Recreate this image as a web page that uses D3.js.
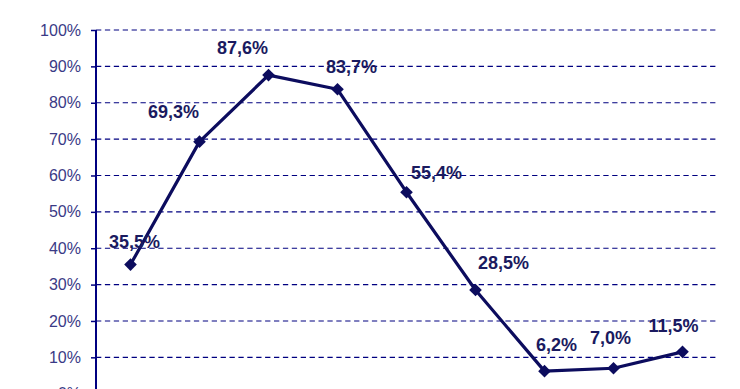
<!DOCTYPE html>
<html>
<head>
<meta charset="utf-8">
<script src="https://cdn.jsdelivr.net/npm/d3@7"></script>
<style>
  html, body { margin: 0; padding: 0; background: #ffffff; overflow: hidden; }
  svg { display: block; }
</style>
</head>
<body>
<svg id="chart" width="740" height="389"></svg>
<script>
// ---- data ----
const categories = ["1", "2", "3", "4", "5", "6", "7", "8", "9"];
const values = [35.5, 69.3, 87.6, 83.7, 55.4, 28.5, 6.2, 7.0, 11.5];
const valueLabels = ["35,5%", "69,3%", "87,6%", "83,7%", "55,4%", "28,5%", "6,2%", "7,0%", "11,5%"];
const yTicks = [0, 10, 20, 30, 40, 50, 60, 70, 80, 90, 100];
const yTickLabels = ["0%", "10%", "20%", "30%", "40%", "50%", "60%", "70%", "80%", "90%", "100%"];
// label placement offsets (layout, pixels)
const labelDx = [4, -26, -26, 14, 30, 28, 12, -3, -9];
const labelDy = [-17, -24, -21, -16, -13, -21, -20, -24, -20];

// ---- layout ----
const plotLeft = 96, plotRight = 717, plotTop = 30, plotBottom = 393.7;
const svg = d3.select("#chart");

const x = d3.scalePoint().domain(categories).range([plotLeft, plotRight]).padding(0.5);
const y = d3.scaleLinear().domain([0, 100]).range([plotBottom, plotTop]);

const navy = "#000080";

// gridlines
svg.append("g").selectAll("line")
  .data(yTicks.filter(d => d > 0))
  .join("line")
  .attr("x1", plotLeft).attr("x2", plotRight)
  .attr("y1", d => y(d)).attr("y2", d => y(d))
  .attr("stroke", navy).attr("stroke-width", 1.1)
  .attr("stroke-dasharray", "5.3,3.6");

// y axis
const yAxis = d3.axisLeft(y).tickValues(yTicks)
  .tickFormat((d, i) => yTickLabels[i]).tickSize(5).tickPadding(10);
const ga = svg.append("g").attr("transform", `translate(${plotLeft},0)`).call(yAxis);
ga.select(".domain").attr("stroke", navy).attr("stroke-width", 2)
  .attr("d", `M0,${plotTop}V${plotBottom}`);
ga.selectAll(".tick line").attr("stroke", navy).attr("stroke-width", 1.5);
ga.selectAll(".tick text")
  .attr("fill", "#3a3a86")
  .style("font-family", "'Liberation Sans', Arial, sans-serif")
  .style("font-size", "16px");

// line
const lineColor = "#0c0c5e";
const line = d3.line().x((d, i) => x(categories[i])).y(d => y(d));
svg.append("path").datum(values)
  .attr("d", line)
  .attr("fill", "none")
  .attr("stroke", lineColor)
  .attr("stroke-width", 3.2)
  .attr("stroke-linejoin", "round");

// diamond markers
const r = 6.3;
svg.append("g").selectAll("path")
  .data(values)
  .join("path")
  .attr("d", (d, i) => {
    const cx = x(categories[i]), cy = y(d);
    return `M${cx},${cy - r}L${cx + r},${cy}L${cx},${cy + r}L${cx - r},${cy}Z`;
  })
  .attr("fill", lineColor);

// value labels
svg.append("g").selectAll("text")
  .data(values)
  .join("text")
  .attr("x", (d, i) => x(categories[i]) + labelDx[i])
  .attr("y", (d, i) => y(d) + labelDy[i])
  .attr("text-anchor", "middle")
  .attr("fill", "#1a1a60")
  .style("font-family", "'Liberation Sans', Arial, sans-serif")
  .style("font-weight", "bold")
  .style("font-size", "18px")
  .text((d, i) => valueLabels[i]);
</script>
</body>
</html>
